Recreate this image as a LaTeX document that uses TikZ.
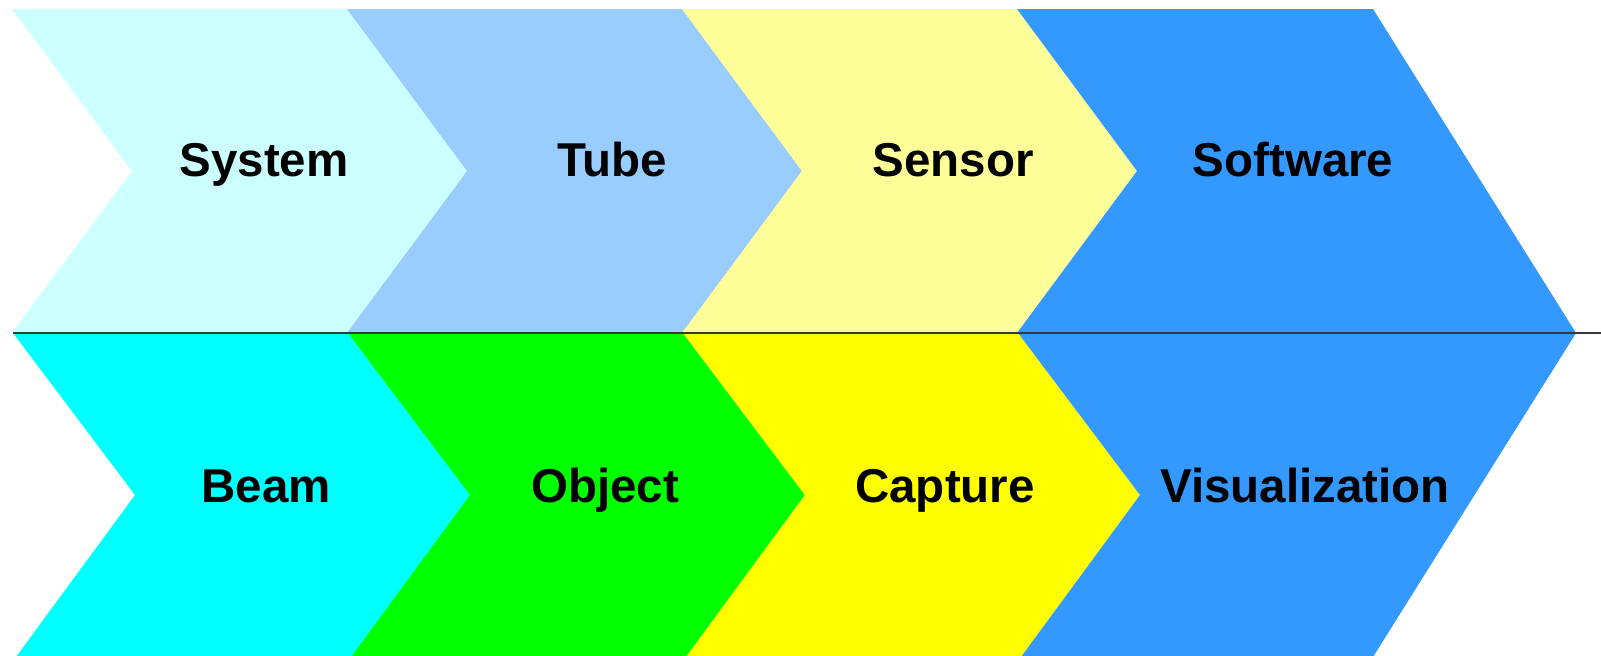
\documentclass[tikz,border=0pt]{standalone}
\usepackage{fontspec}
\setmainfont{Liberation Sans}
\usepackage{tikz}
\usetikzlibrary{positioning}

\definecolor{systemcol}{HTML}{CCFFFF}
\definecolor{tubecol}{HTML}{99CCFF}
\definecolor{sensorcol}{HTML}{FFFF99}
\definecolor{beamcol}{HTML}{00FFFF}
\definecolor{objectcol}{HTML}{00FF00}
\definecolor{capturecol}{HTML}{FFFF00}
\definecolor{softcol}{HTML}{3399FF}

\begin{document}
\begin{tikzpicture}[
    x=0.3pt, y=-0.3pt,
    label/.style={anchor=base, inner sep=0pt, font=\fontsize{14.25}{16}\selectfont\bfseries},
    axis/.style={line width=0.6pt, black!78}
]
\useasboundingbox (0,0) rectangle (1601,655);
% upper row
\fill[systemcol] (12,9) -- (347,9) -- (467,171) -- (347,333) -- (12,333) -- (132,171) -- cycle;
\fill[tubecol] (347,9) -- (682,9) -- (802,171) -- (682,333) -- (347,333) -- (467,171) -- cycle;
\fill[sensorcol] (682,9) -- (1017,9) -- (1137,171) -- (1017,333) -- (682,333) -- (802,171) -- cycle;
\fill[softcol] (1017,9) -- (1373,9) -- (1576,333) -- (1017,333) -- (1137,171) -- cycle;
% lower row
\fill[beamcol] (13,333) -- (348,333) -- (470,495) -- (351,657) -- (16,657) -- (135,495) -- cycle;
\fill[objectcol] (348,333) -- (683,333) -- (805,495) -- (686,657) -- (351,657) -- (470,495) -- cycle;
\fill[capturecol] (683,333) -- (1018,333) -- (1140,495) -- (1021,657) -- (686,657) -- (805,495) -- cycle;
\fill[softcol] (1018,333) -- (1576,333) -- (1373,657) -- (1021,657) -- (1140,495) -- cycle;
% labels
\node[label] (system) at (264,176) {System};
\node[label] (tube) at (612,176) {Tube};
\node[label] (sensor) at (953,176) {Sensor};
\node[label] (software) at (1293,176) {Software};
\node[label] (beam) at (266,502) {Beam};
\node[label] (object) at (605,502) {Object};
\node[label] (capture) at (945,502) {Capture};
\node[label] (visual) at (1305,502) {Visualization};
% dividing line
\coordinate (lstart) at (13,333);
\coordinate (lend) at (1601,333);
\draw[axis] (lstart) -- (lend);
\end{tikzpicture}
\end{document}
